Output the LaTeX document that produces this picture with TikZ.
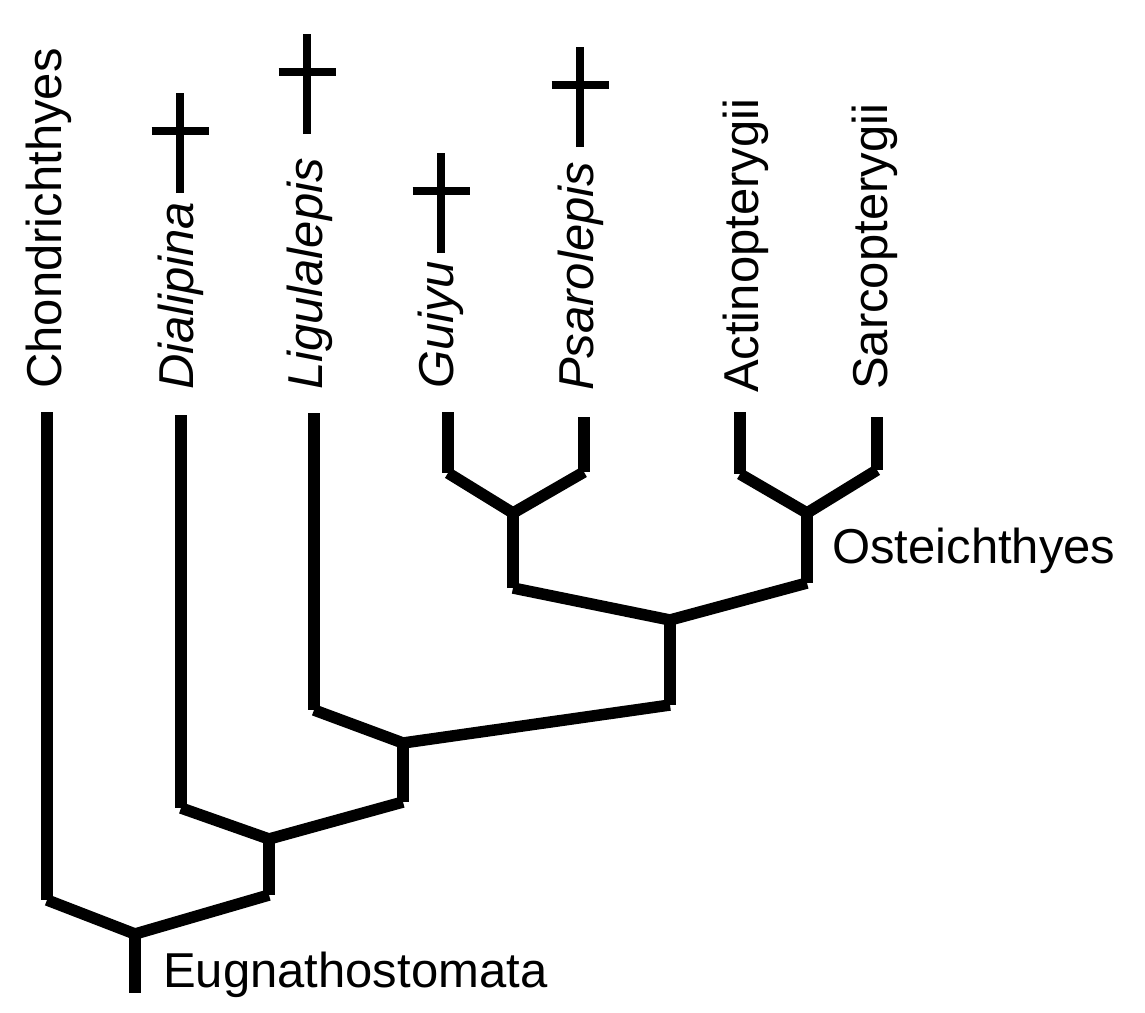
\documentclass[tikz,border=0pt]{standalone}
\usepackage{fontspec}
\setmainfont{Liberation Sans}
\begin{document}
\begin{tikzpicture}[x=1bp,y=-1bp,
  branch/.style={line width=11.5bp,line cap=butt,black},
  taxon/.style={rotate=90,anchor=base west,inner sep=0pt,font=\fontsize{49bp}{59bp}\selectfont},
  clade/.style={anchor=base west,inner sep=0pt,font=\fontsize{49bp}{59bp}\selectfont},
  extinct/.pic={
    \draw[line width=8.5bp,line cap=butt] (0,0) -- (0,-100);
    \draw[line width=8.5bp,line cap=butt] (-28.5,-62) -- (28.5,-62);
  }]
\useasboundingbox (0,0) rectangle (1145,1013);
% labels
\node[taxon] (chon) at (61,389) {Chondrichthyes};
\node[taxon] (dial) at (193,390) {\itshape Dialipina};
\node[taxon] (ligu) at (322,390) {\itshape Ligulalepis};
\node[taxon] (guiy) at (453,389) {\itshape Guiyu};
\node[taxon] (psar) at (593,391) {\itshape Psarolepis};
\node[taxon] (acti) at (758,393) {Actinopterygii};
\node[taxon] (sarc) at (887,390) {Sarcopterygii};
\node[clade] (eugn) at (163,987) {Eugnathostomata};
\node[clade] (oste) at (832,563) {Osteichthyes};
% extinction marks
\pic at (180,193) {extinct};
\pic at (307,134) {extinct};
\pic at (441,253) {extinct};
\pic at (580,147) {extinct};
% tips
\coordinate (tchon) at (47,412);
\coordinate (tdial) at (181,415);
\coordinate (tligu) at (314,413);
\coordinate (tguiy) at (448,412);
\coordinate (tpsar) at (584,417);
\coordinate (tacti) at (740,412);
\coordinate (tsarc) at (877,417);
% bends
\coordinate (bchon) at (47,900);
\coordinate (bdial) at (181,808);
\coordinate (bligu) at (314,710);
\coordinate (bguiy) at (448,473);
\coordinate (bpsar) at (584,472);
\coordinate (bacti) at (740,474);
\coordinate (bsarc) at (877,470);
% internal nodes
\coordinate (root) at (135,934);
\coordinate (rootend) at (135,993);
\coordinate (n1) at (269,839);
\coordinate (n1b) at (269,895);
\coordinate (n2) at (403,743);
\coordinate (n2b) at (403,802);
\coordinate (n3) at (670,620);
\coordinate (n3b) at (670,705);
\coordinate (n4) at (513,513);
\coordinate (n4b) at (513,588);
\coordinate (n5) at (807,513);
\coordinate (n5b) at (807,583);
% branches
\draw[branch] (tchon) -- (bchon);
\draw[branch] (bchon) -- (root);
\draw[branch] (root) -- (n1b);
\draw[branch] (n1b) -- (n1);
\draw[branch] (root) -- (rootend);
\draw[branch] (tdial) -- (bdial);
\draw[branch] (bdial) -- (n1);
\draw[branch] (n1) -- (n2b);
\draw[branch] (n2b) -- (n2);
\draw[branch] (tligu) -- (bligu);
\draw[branch] (bligu) -- (n2);
\draw[branch] (n2) -- (n3b);
\draw[branch] (n3b) -- (n3);
\draw[branch] (n3) -- (n4b);
\draw[branch] (n4b) -- (n4);
\draw[branch] (n3) -- (n5b);
\draw[branch] (n5b) -- (n5);
\draw[branch] (tguiy) -- (bguiy);
\draw[branch] (bguiy) -- (n4);
\draw[branch] (tpsar) -- (bpsar);
\draw[branch] (bpsar) -- (n4);
\draw[branch] (tacti) -- (bacti);
\draw[branch] (bacti) -- (n5);
\draw[branch] (tsarc) -- (bsarc);
\draw[branch] (bsarc) -- (n5);
\end{tikzpicture}
\end{document}
